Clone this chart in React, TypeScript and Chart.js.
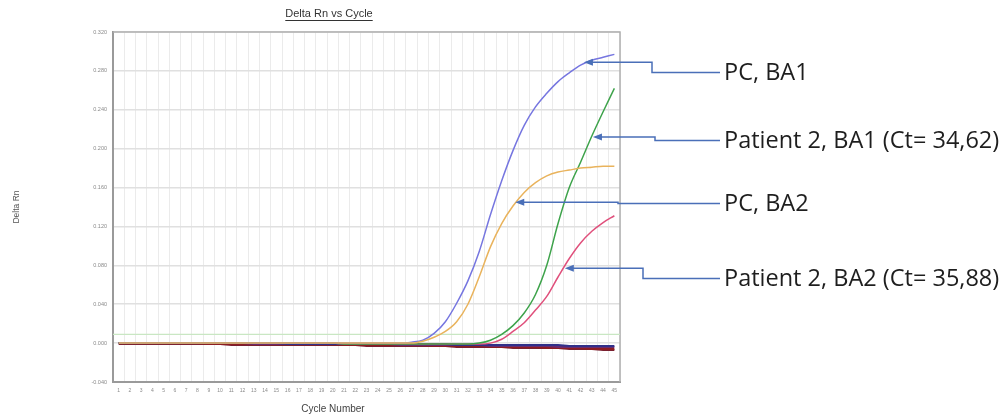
import React, { useEffect, useRef } from "react";
import { Chart, registerables } from "chart.js";

Chart.register(...registerables);

const cycleLabels = [
  "1", "2", "3", "4", "5", "6", "7", "8", "9", "10",
  "11", "12", "13", "14", "15", "16", "17", "18", "19", "20",
  "21", "22", "23", "24", "25", "26", "27", "28", "29", "30",
  "31", "32", "33", "34", "35", "36", "37", "38", "39", "40",
  "41", "42", "43", "44", "45",
];

const yTickLabels = ["-0.040", "0.000", "0.040", "0.080", "0.120", "0.160", "0.200", "0.240", "0.280", "0.320"];

const pcBa1 = [
  0, 0, 0, 0, 0, 0, 0, 0, 0, 0,
  0, 0, 0, 0, 0, 0, 0, 0, 0, 0,
  0, 0, 0, 0, 0, 0, 0.001, 0.003, 0.010, 0.022,
  0.041, 0.064, 0.094, 0.132, 0.167, 0.198, 0.224, 0.243, 0.257, 0.269,
  0.278, 0.286, 0.291, 0.294, 0.297,
];

const pcBa2 = [
  0, 0, 0, 0, 0, 0, 0, 0, 0, 0,
  0, 0, 0, 0, 0, 0, 0, 0, 0, 0,
  0, 0, 0, 0, 0, 0, 0, 0.002, 0.006, 0.012,
  0.022, 0.040, 0.068, 0.099, 0.123, 0.141, 0.155, 0.165, 0.172, 0.176,
  0.178, 0.180, 0.181, 0.182, 0.182,
];

const patient2Ba1 = [
  0, 0, 0, 0, 0, 0, 0, 0, 0, 0,
  0, 0, 0, 0, 0, 0, 0, 0, 0, 0,
  -0.001, -0.001, -0.001, -0.001, -0.001, -0.001, -0.001, -0.001, -0.001, -0.001,
  -0.001, -0.001, 0.000, 0.003, 0.009, 0.018, 0.031, 0.050, 0.080, 0.123,
  0.160, 0.186, 0.213, 0.238, 0.262,
];

const patient2Ba2 = [
  0, 0, 0, 0, 0, 0, 0, 0, 0, 0,
  0, 0, 0, 0, 0, 0, 0, 0, 0, 0,
  -0.001, -0.001, -0.001, -0.001, -0.001, -0.001, -0.001, -0.001, -0.001, -0.001,
  -0.001, -0.001, -0.001, 0.000, 0.004, 0.012, 0.021, 0.034, 0.048, 0.068,
  0.087, 0.103, 0.115, 0.124, 0.131,
];

const negControlA = [
  0, 0, 0, 0, 0, 0, 0, 0, 0, 0,
  0, 0, 0, 0, 0, -0.001, -0.001, -0.001, -0.001, -0.001,
  -0.001, -0.001, -0.001, -0.001, -0.001, -0.001, -0.001, -0.001, -0.001, -0.001,
  -0.002, -0.002, -0.002, -0.002, -0.002, -0.002, -0.002, -0.002, -0.002, -0.002,
  -0.003, -0.003, -0.003, -0.003, -0.003,
];

const negControlB = [
  0, 0, 0, 0, 0, 0, 0, 0, 0, 0,
  0, 0, -0.001, -0.001, -0.001, -0.001, -0.001, -0.001, -0.001, -0.001,
  -0.001, -0.001, -0.001, -0.001, -0.001, -0.002, -0.002, -0.002, -0.002, -0.002,
  -0.002, -0.002, -0.002, -0.003, -0.003, -0.003, -0.003, -0.003, -0.003, -0.004,
  -0.004, -0.004, -0.004, -0.004, -0.004,
];

const negControlC = [
  0, 0, 0, 0, 0, 0, 0, 0, -0.001, -0.001,
  -0.001, -0.001, -0.001, -0.001, -0.001, -0.001, -0.001, -0.001, -0.001, -0.001,
  -0.002, -0.002, -0.002, -0.002, -0.002, -0.002, -0.002, -0.002, -0.003, -0.003,
  -0.003, -0.003, -0.003, -0.004, -0.004, -0.004, -0.004, -0.004, -0.005, -0.005,
  -0.005, -0.005, -0.006, -0.006, -0.006,
];

const negControlD = [
  -0.001, -0.001, -0.001, -0.001, -0.001, -0.001, -0.001, -0.001, -0.001, -0.001,
  -0.002, -0.002, -0.002, -0.002, -0.002, -0.002, -0.002, -0.002, -0.002, -0.002,
  -0.002, -0.002, -0.003, -0.003, -0.003, -0.003, -0.003, -0.003, -0.003, -0.003,
  -0.004, -0.004, -0.004, -0.004, -0.004, -0.005, -0.005, -0.005, -0.005, -0.005,
  -0.006, -0.006, -0.006, -0.007, -0.007,
];

const thresholdValue = 0.009;

const chartTitle = "Delta Rn vs Cycle";
const xAxisTitle = "Cycle Number";
const yAxisTitle = "Delta Rn";

const annotationLabels = [
  "PC, BA1",
  "Patient 2, BA1 (Ct= 34,62)",
  "PC, BA2",
  "Patient 2, BA2 (Ct= 35,88)",
];
// arrow tip position in data space (category index, Delta Rn)
const annotationTipIndex = [41.3, 42.1, 35.2, 39.6];
const annotationTipValue = [0.289, 0.212, 0.145, 0.077];

// layout of the callout connectors (pixels)
const CALLOUT_LAYOUT = [
  { elbowX: 652, lineY: 72.5 },
  { elbowX: 655, lineY: 140.5 },
  { elbowX: 618, lineY: 203.5 },
  { elbowX: 643, lineY: 278.5 },
];
const CALLOUT_LINE_END = 720;
const CALLOUT_TEXT_X = 724;
const CALLOUT_COLOR = "#4a6fb8";

const overlayPlugin = {
  id: "overlay",
  beforeDatasetsDraw(chart: any) {
    const { ctx, chartArea, scales } = chart;
    ctx.save();
    ctx.strokeStyle = "#b0b0b0";
    ctx.lineWidth = 1.5;
    ctx.beginPath();
    ctx.moveTo(chartArea.left, chartArea.top);
    ctx.lineTo(chartArea.right, chartArea.top);
    ctx.lineTo(chartArea.right, chartArea.bottom);
    ctx.stroke();
    const ty = scales.y.getPixelForValue(thresholdValue);
    ctx.strokeStyle = "#c9e7c3";
    ctx.lineWidth = 1.2;
    ctx.beginPath();
    ctx.moveTo(chartArea.left, ty);
    ctx.lineTo(chartArea.right, ty);
    ctx.stroke();
    ctx.restore();
  },
  afterDraw(chart: any) {
    const { ctx, scales } = chart;
    ctx.save();
    ctx.font = '11px "Liberation Sans", Arial, sans-serif';
    ctx.fillStyle = "#333333";
    ctx.textAlign = "center";
    ctx.textBaseline = "middle";
    const tx = 329;
    const tyy = 14;
    ctx.fillText(chartTitle, tx, tyy);
    const w = ctx.measureText(chartTitle).width;
    ctx.strokeStyle = "#333333";
    ctx.lineWidth = 1;
    ctx.beginPath();
    ctx.moveTo(tx - w / 2, tyy + 6.5);
    ctx.lineTo(tx + w / 2, tyy + 6.5);
    ctx.stroke();

    ctx.font = '10px "Liberation Sans", Arial, sans-serif';
    ctx.fillStyle = "#444444";
    ctx.fillText(xAxisTitle, 333, 409);

    ctx.lineWidth = 1.5;
    annotationLabels.forEach((label, i) => {
      const px = scales.x.getPixelForValue(annotationTipIndex[i]);
      const py = scales.y.getPixelForValue(annotationTipValue[i]);
      const { elbowX, lineY } = CALLOUT_LAYOUT[i];
      ctx.strokeStyle = CALLOUT_COLOR;
      ctx.beginPath();
      ctx.moveTo(px + 7, py);
      ctx.lineTo(elbowX, py);
      ctx.lineTo(elbowX, lineY);
      ctx.lineTo(CALLOUT_LINE_END, lineY);
      ctx.stroke();
      ctx.fillStyle = CALLOUT_COLOR;
      ctx.beginPath();
      ctx.moveTo(px, py);
      ctx.lineTo(px + 9, py - 3.5);
      ctx.lineTo(px + 9, py + 3.5);
      ctx.closePath();
      ctx.fill();

      ctx.font = '23.5px "Open Sans", "Noto Sans", sans-serif';
      ctx.fillStyle = "#1e1e1e";
      ctx.textAlign = "left";
      ctx.textBaseline = "middle";
      ctx.fillText(label, CALLOUT_TEXT_X, lineY + 1);
    });
    ctx.restore();
  },
};

function lineDs(label: string, data: number[], color: string, width = 1.5) {
  return {
    label,
    data,
    borderColor: color,
    backgroundColor: color,
    borderWidth: width,
    pointRadius: 0,
    cubicInterpolationMode: "monotone" as const,
    fill: false,
  };
}

export default function App() {
  const canvasRef = useRef<HTMLCanvasElement | null>(null);

  useEffect(() => {
    if (!canvasRef.current) return;
    const chart = new Chart(canvasRef.current, {
      type: "line",
      data: {
        labels: cycleLabels,
        datasets: [
          lineDs("PC, BA2", pcBa2, "#e9b35c"),
          lineDs("PC, BA1", pcBa1, "#7676e0"),
          lineDs("Patient 2, BA1", patient2Ba1, "#3ea34b"),
          lineDs("Patient 2, BA2", patient2Ba2, "#e0507c"),
          lineDs("NTC A", negControlA, "#30308a", 2),
          lineDs("NTC B", negControlB, "#6a2a6e", 2),
          lineDs("NTC C", negControlC, "#8c1c22", 2),
          lineDs("NTC D", negControlD, "#7a2030", 2),
        ],
      },
      options: {
        responsive: false,
        animation: false,
        events: [],
        layout: { padding: { left: 0, right: 385, top: 32, bottom: 0 } },
        plugins: {
          legend: { display: false },
          tooltip: { enabled: false },
          title: { display: false },
        },
        scales: {
          x: {
            type: "category",
            offset: true,
            afterFit: (scale: any) => {
              scale.height = 36;
            },
            grid: {
              color: "#ebebeb",
              lineWidth: 1,
              drawTicks: false,
              offset: true,
            },
            border: { color: "#9a9a9a", width: 2 },
            ticks: {
              autoSkip: false,
              maxRotation: 0,
              minRotation: 0,
              padding: 6,
              color: "#8a8a8a",
              font: { family: '"Liberation Sans", Arial, sans-serif', size: 5 },
            },
          },
          y: {
            min: -0.04,
            max: 0.32,
            afterFit: (scale: any) => {
              scale.width = 113;
            },
            grid: {
              color: "#e0e0e0",
              lineWidth: 1.5,
              drawTicks: false,
            },
            border: { color: "#9a9a9a", width: 2 },
            ticks: {
              stepSize: 0.04,
              padding: 6,
              color: "#8a8a8a",
              font: { family: '"Liberation Sans", Arial, sans-serif', size: 5.5 },
              callback: (_v: any, index: number) => yTickLabels[index],
            },
            title: {
              display: true,
              text: yAxisTitle,
              color: "#555555",
              font: { family: '"Liberation Sans", Arial, sans-serif', size: 8.5 },
              padding: { top: 12, bottom: 0 },
            },
          },
        },
      },
      plugins: [overlayPlugin],
    });
    return () => chart.destroy();
  }, []);

  return (
    <div style={{ position: "absolute", left: 0, top: 0, width: 1005, height: 418, background: "#ffffff" }}>
      <canvas ref={canvasRef} width={1005} height={418} style={{ display: "block" }} />
    </div>
  );
}
